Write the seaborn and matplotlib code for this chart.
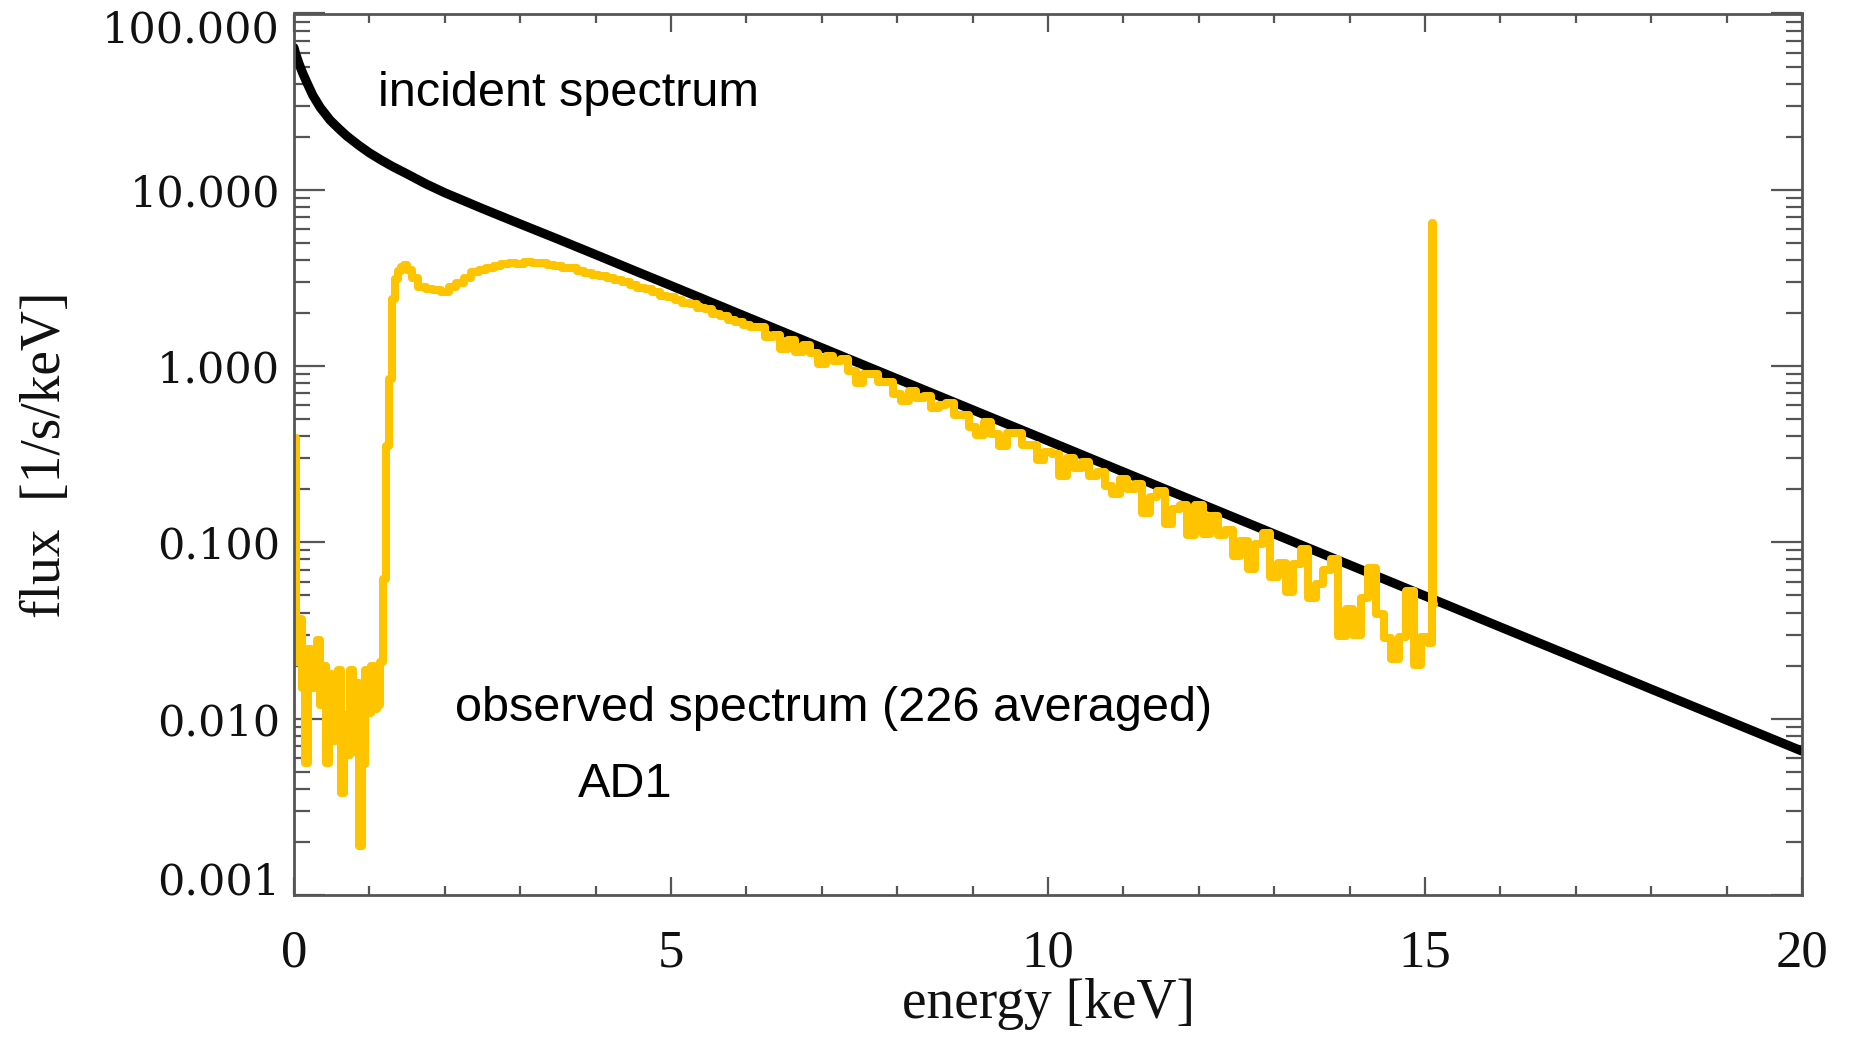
import numpy as np
import pandas as pd
import matplotlib
matplotlib.use("Agg")
import matplotlib.pyplot as plt
import seaborn as sns
from matplotlib.ticker import MultipleLocator, LogLocator, NullFormatter
from matplotlib.transforms import ScaledTranslation

# ---------------- data ----------------
incident_energy = [0.0, 0.02, 0.04, 0.08, 0.12, 0.18, 0.25, 0.35, 0.48, 0.6, 0.7, 0.85, 1.0,
                   1.15, 1.3, 1.5, 1.75, 2.0, 2.5, 3.0, 3.5, 4.0, 4.5, 5.0, 6.0, 7.0, 8.0,
                   9.0, 10.0, 11.0, 12.0, 13.0, 14.0, 15.0, 16.0, 17.0, 18.0, 19.0, 20.0]
incident_flux = [64.0, 59.6, 56.0, 50.1, 45.4, 39.8, 34.3, 29.2, 24.8, 22.1, 20.2, 18.0, 16.2,
                 14.8, 13.6, 12.3, 10.8, 9.62, 7.82, 6.40, 5.25, 4.29, 3.50, 2.86, 1.905, 1.27, 0.847,
                 0.565, 0.377, 0.251, 0.1675, 0.1117, 0.0745, 0.0497, 0.0331, 0.0221, 0.01472,
                 0.00982, 0.00655]

obs_energy_low = [0.00, 0.04, 0.08, 0.12, 0.16, 0.20, 0.24, 0.28, 0.32, 0.36, 0.40, 0.44,
                  0.48, 0.52, 0.56, 0.60, 0.64, 0.68, 0.72, 0.76, 0.80, 0.84, 0.88, 0.92,
                  0.96, 1.00, 1.04, 1.08, 1.12, 1.16]
obs_flux_low = [0.39, 0.021, 0.037, 0.015, 0.0056, 0.025, 0.015, 0.020, 0.028, 0.012, 0.020, 0.0056,
                0.018, 0.0075, 0.0113, 0.019, 0.0038, 0.0105, 0.0062, 0.019, 0.0065, 0.016, 0.0019, 0.0055,
                0.019, 0.0108, 0.020, 0.0113, 0.012, 0.021]

obs_energy_edge = [1.20, 1.24, 1.28, 1.32, 1.36, 1.40, 1.44, 1.48, 1.52]
obs_flux_edge = [0.062, 0.35, 0.85, 2.4, 3.1, 3.45, 3.65, 3.75, 3.5]

obs_energy_mid = [1.6, 1.7, 1.8, 1.9, 2.0, 2.1, 2.2, 2.3, 2.4, 2.5, 2.6, 2.7, 2.8, 2.9, 3.0,
                  3.1, 3.2, 3.3, 3.4, 3.5, 3.6, 3.7, 3.8, 3.9, 4.0, 4.1, 4.2, 4.3, 4.4, 4.5,
                  4.6, 4.7, 4.8, 4.9, 5.0, 5.1, 5.2, 5.3, 5.4, 5.5, 5.6, 5.7, 5.8, 5.9, 6.0]
obs_flux_mid = [3.15, 2.82, 2.74, 2.70, 2.64, 2.80, 2.95, 3.18, 3.40, 3.52, 3.62, 3.72, 3.80, 3.86, 3.78,
                3.90, 3.82, 3.86, 3.74, 3.70, 3.62, 3.58, 3.46, 3.38, 3.30, 3.26, 3.14, 3.06, 2.98, 2.90,
                2.76, 2.72, 2.62, 2.50, 2.46, 2.37, 2.28, 2.24, 2.13, 2.10, 1.98, 1.93, 1.82, 1.79, 1.72]

obs_energy_high = [6.1, 6.2, 6.3, 6.4, 6.5, 6.6, 6.7, 6.8, 6.9, 7.0,
                   7.1, 7.2, 7.3, 7.4, 7.5, 7.6, 7.7, 7.8, 7.9, 8.0,
                   8.1, 8.2, 8.3, 8.4, 8.5, 8.6, 8.7, 8.8, 8.9, 9.0,
                   9.1, 9.2, 9.3, 9.4, 9.5, 9.6, 9.7, 9.8, 9.9, 10.0]
obs_flux_high = [1.667, 1.671, 1.462, 1.500, 1.250, 1.406, 1.199, 1.321, 1.180, 1.030,
                 1.135, 1.064, 1.094, 0.935, 0.800, 0.902, 0.906, 0.811, 0.815, 0.697,
                 0.638, 0.721, 0.661, 0.679, 0.581, 0.598, 0.615, 0.526, 0.530, 0.453,
                 0.406, 0.480, 0.410, 0.352, 0.415, 0.417, 0.357, 0.359, 0.294, 0.324]

obs_energy_tail = [10.1, 10.2, 10.3, 10.4, 10.5, 10.6, 10.7, 10.8, 10.9, 11.0,
                   11.1, 11.2, 11.3, 11.4, 11.5, 11.6, 11.7, 11.8, 11.9, 12.0,
                   12.1, 12.2, 12.3, 12.4, 12.5, 12.6, 12.7, 12.8, 12.9, 13.0,
                   13.1, 13.2, 13.3, 13.4, 13.5, 13.6, 13.7, 13.8, 13.9, 14.0,
                   14.1, 14.2, 14.3, 14.4, 14.5, 14.6, 14.7, 14.8, 14.9, 15.0,
                   15.08, 15.10, 15.12]
obs_flux_tail = [0.318, 0.238, 0.301, 0.264, 0.284, 0.238, 0.251, 0.210, 0.188, 0.228,
                 0.200, 0.215, 0.147, 0.182, 0.195, 0.127, 0.154, 0.162, 0.110, 0.164,
                 0.111, 0.141, 0.110, 0.118, 0.0840, 0.1014, 0.0705, 0.0977, 0.1127, 0.0637,
                 0.0769, 0.0521, 0.0757, 0.0912, 0.0481, 0.0581, 0.0700, 0.0807, 0.0294, 0.0417,
                 0.0297, 0.0482, 0.0716, 0.0394, 0.0287, 0.0219, 0.0289, 0.0528, 0.0201, 0.0292,
                 0.027, 6.47, 0.045]

ytick_values = [0.001, 0.01, 0.1, 1.0, 10.0, 100.0]
ytick_labels = ["0.001", "0.010", "0.100", "1.000", "10.000", "100.000"]
xtick_values = [0, 5, 10, 15, 20]
xtick_labels = ["0", "5", "10", "15", "20"]

# ---------------- figure ----------------
sns.set_theme(style="ticks")
plt.rcParams['font.family'] = ['Liberation Serif', 'DejaVu Serif']

W, H = 1854, 1042
fig = plt.figure(figsize=(W / 100, H / 100), dpi=100)
x0, x1, y0, y1 = 294, 1802, 13.5, 895
ax = fig.add_axes([x0 / W, 1 - y1 / H, (x1 - x0) / W, (y1 - y0) / H])

inc_df = pd.DataFrame({"energy": incident_energy, "flux": incident_flux})
obs_df = pd.DataFrame({
    "energy": obs_energy_low + obs_energy_edge + obs_energy_mid + obs_energy_high + obs_energy_tail,
    "flux": obs_flux_low + obs_flux_edge + obs_flux_mid + obs_flux_high + obs_flux_tail,
})

sns.lineplot(data=inc_df, x="energy", y="flux", ax=ax, color="black", linewidth=6.6,
             sort=False, estimator=None, solid_joinstyle="round")
sns.lineplot(data=obs_df, x="energy", y="flux", ax=ax, color="#FFC400", linewidth=5.8,
             sort=False, estimator=None, drawstyle="steps-mid")

ax.set_yscale("log")
ax.set_xlim(0, 20)
ax.set_ylim(1e-3, 100)

ax.set_xticks(xtick_values)
ax.set_xticklabels(xtick_labels)
ax.xaxis.set_minor_locator(MultipleLocator(1))
ax.set_yticks(ytick_values)
ax.set_yticklabels(ytick_labels)
ax.yaxis.set_minor_locator(LogLocator(base=10, subs=np.arange(2, 10)))
ax.yaxis.set_minor_formatter(NullFormatter())

tick_col = "#555555"
ax.tick_params(axis="both", which="both", direction="in", top=True, right=True,
               color=tick_col, width=1.6)
ax.tick_params(axis="y", which="major", length=22, labelsize=31, pad=10,
               labelfontfamily="DejaVu Serif", labelcolor="#111111")
ax.tick_params(axis="y", which="minor", length=11.5)
ax.tick_params(axis="x", which="major", length=13, labelsize=38, pad=25,
               labelfontfamily="Liberation Serif", labelcolor="#111111")
ax.tick_params(axis="x", which="minor", length=6.5)

for s in ax.spines.values():
    s.set_color(tick_col)
    s.set_linewidth(2.0)

ax.set_xlabel("energy [keV]", fontsize=40, family="Liberation Serif", labelpad=0, color="#111111")
ax.set_ylabel("flux  [1/s/keV]", fontsize=40, family="Liberation Serif", labelpad=22, color="#111111")

txt_kw = dict(transform=ax.transAxes, family="Liberation Sans", fontsize=35,
              color="black", ha="left", va="baseline")
ax.text(0.056, 0.895, "incident spectrum", **txt_kw)
ax.text(0.107, 0.197, "observed spectrum (226 averaged)", **txt_kw)
ax.text(0.188, 0.111, "AD1", **txt_kw)

ylabels = ax.get_yticklabels()
ylabels[-1].set_transform(ylabels[-1].get_transform() + ScaledTranslation(0, -9 / 72, fig.dpi_scale_trans))
ylabels[0].set_transform(ylabels[0].get_transform() + ScaledTranslation(0, 12 / 72, fig.dpi_scale_trans))

fig.savefig("out.png", dpi=100, facecolor="white")
